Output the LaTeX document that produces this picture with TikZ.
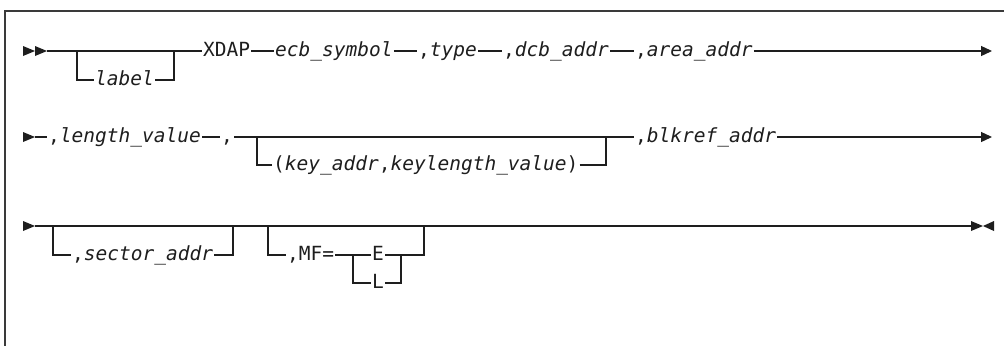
\documentclass[tikz,border=0pt]{standalone}
\usepackage{fontspec}
\newfontfamily\synfont{DejaVu Sans Mono}[ItalicFont={DejaVu Sans Mono Oblique}]
\usetikzlibrary{arrows.meta}
\definecolor{ink}{HTML}{1E1E1E}
\definecolor{framec}{HTML}{3A3A3A}
\tikzset{
  txt/.style={anchor=west, fill=white, inner xsep=1pt, inner ysep=0pt,
    text height=15pt, text depth=4pt, text=ink,
    font=\synfont\fontsize{19.5}{22}\selectfont},
  rail/.style={draw=ink, line width=1.3pt},
  frameline/.style={draw=framec, line width=1.5pt},
  endarrow/.style={-{Triangle[length=11pt,width=10pt]}},
}
\begin{document}
\begin{tikzpicture}[x=1pt,y=-1pt]
\useasboundingbox (0,0) rectangle (1004,346);
% frame
\draw[frameline] (1004,11) -- (5,11) -- (5,346);

% ---------------- row 1 ----------------
\fill[ink] (23,46) -- (35,51) -- (23,56) -- cycle;
\fill[ink] (35,46) -- (47,51) -- (35,56) -- cycle;
\coordinate (s1) at (47,51);
\coordinate (b1l) at (77,51);
\coordinate (b1r) at (174,51);
\coordinate (e1) at (992,51);
\node[txt] (label) at (94,80) {\itshape label};
\node[txt] (xdap) at (202,51) {XDAP};
\node[txt] (ecb) at (274,51) {\itshape ecb\_symbol};
\node[txt] (type) at (417,51) {,\itshape type};
\node[txt] (dcb) at (502,51) {,\itshape dcb\_addr};
\node[txt] (area) at (634,51) {,\itshape area\_addr};
\draw[rail] (s1) -- (xdap.west);
\draw[rail] (b1l) |- (label.west);
\draw[rail] (label.east) -| (b1r);
\draw[rail] (xdap.east) -- (ecb.west);
\draw[rail] (ecb.east) -- (type.west);
\draw[rail] (type.east) -- (dcb.west);
\draw[rail] (dcb.east) -- (area.west);
\draw[rail,endarrow] (area.east) -- (e1);

% ---------------- row 2 ----------------
\fill[ink] (23,132) -- (35,137) -- (23,142) -- cycle;
\coordinate (s2) at (35,137);
\coordinate (b2l) at (257,137);
\coordinate (b2r) at (606,137);
\coordinate (e2) at (992,137);
\node[txt] (len) at (47,137) {,\itshape length\_value};
\node[txt] (comma) at (220,137) {,};
\node[txt] (key) at (272,165) {(\textit{key\_addr},\textit{keylength\_value})};
\node[txt] (blk) at (634,137) {,\itshape blkref\_addr};
\draw[rail] (s2) -- (len.west);
\draw[rail] (len.east) -- (comma.west);
\draw[rail] (comma.east) -- (blk.west);
\draw[rail] (b2l) |- (key.west);
\draw[rail] (key.east) -| (b2r);
\draw[rail,endarrow] (blk.east) -- (e2);

% ---------------- row 3 ----------------
\fill[ink] (23,221) -- (35,226) -- (23,231) -- cycle;
\coordinate (s3) at (35,226);
\coordinate (b3l) at (53,226);
\coordinate (b3r) at (233,226);
\coordinate (b4l) at (268,226);
\coordinate (b4r) at (424,226);
\coordinate (m1) at (353,255);
\coordinate (m2) at (401,255);
\coordinate (e3) at (971,226);
\node[txt] (sector) at (71,255) {,\itshape sector\_addr};
\node[txt] (mf) at (286,255) {,MF=};
\node[txt] (E) at (371,255) {E};
\node[txt] (L) at (371,283) {L};
\draw[rail] (s3) -- (e3);
\draw[ink, line width=2.3pt] (430,226) -- (455,226);
\draw[rail] (b3l) |- (sector.west);
\draw[rail] (sector.east) -| (b3r);
\draw[rail] (b4l) |- (mf.west);
\draw[rail] (mf.east) -- (E.west);
\draw[rail] (E.east) -| (b4r);
\draw[rail] (m1) |- (L.west);
\draw[rail] (L.east) -| (m2);
\fill[ink] (971,221) -- (983,226) -- (971,231) -- cycle;
\fill[ink] (994,221) -- (983,226) -- (994,231) -- cycle;
\end{tikzpicture}
\end{document}
